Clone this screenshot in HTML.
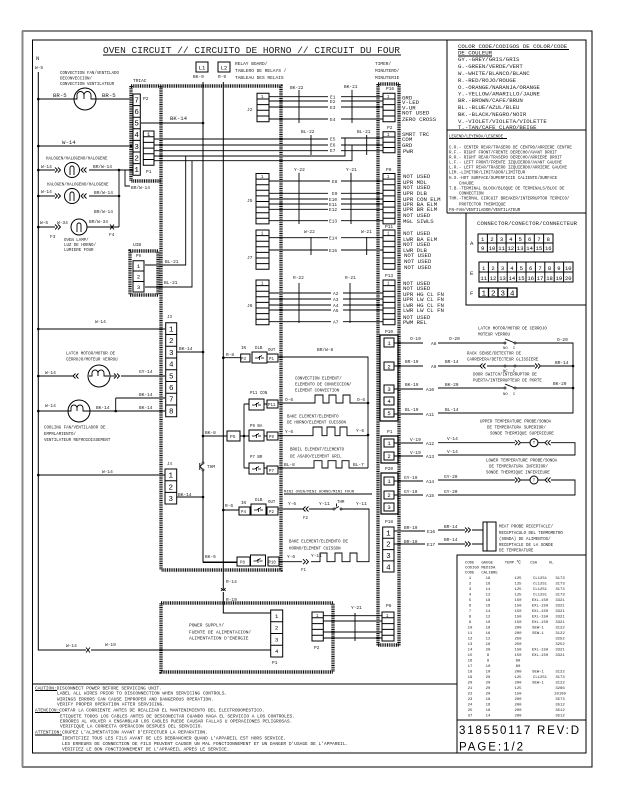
<!DOCTYPE html>
<html><head><meta charset="utf-8"><style>
html,body{margin:0;padding:0;background:#fff}
svg{display:block}
text{font-family:"Liberation Mono",monospace;fill:#222}
.x{font-size:4.1px}.s{font-size:4.5px}.m{font-size:5.7px}.n{font-size:7.5px;text-anchor:middle;fill:#000}.k{font-size:5.5px;text-anchor:middle;fill:#000}
.t{font-size:3.9px}
.w{fill:none;stroke:#000;stroke-width:.9}
.b{fill:none;stroke:#000;stroke-width:1}
.d{fill:none;stroke:#111;stroke-width:3.4;stroke-dasharray:1 .8}
</style></head><body>
<svg width="619" height="800" viewBox="0 0 619 800" xmlns="http://www.w3.org/2000/svg">
<defs>
<circle id="o" r="1.3" fill="#000"/>
<circle id="c" r="1" fill="#fff" stroke="#000" stroke-width=".7"/>
<path id="gt" d="M0-2.5L2.5 0L0 2.5M3-2.5L5.5 0L3 2.5" fill="none" stroke="#000" stroke-width=".9"/>
<path id="lt" d="M2.5-2.5L0 0L2.5 2.5M5.5-2.5L3 0L5.5 2.5" fill="none" stroke="#000" stroke-width=".9"/>
<g id="rel"><path d="M0 0h15v11h-15z" fill="#fff" stroke="#000" stroke-width="1"/><path d="M3 6h3l4-2.5M9 6h3M7.5 4v4" fill="none" stroke="#000" stroke-width=".8"/></g>
</defs>
<rect width="619" height="800" fill="#fff"/>
<!-- frames -->
<path d="M592 31H22.5V767H592Z" fill="none" stroke="#000" stroke-width="1"/>
<path d="M23 31H590" stroke="#888" stroke-width="2" fill="none"/><path d="M22.5 31V767" stroke="#888" stroke-width="2" fill="none"/>
<rect x="32.5" y="40" width="553.5" height="713" fill="none" stroke="#000" stroke-width="1"/>
<path class="b" d="M32.5 684H457M447 40V213M447 130H586M447 213H586M466 213V305H586M457 753V555H586M457 720H586"/>
<!-- title -->
<text x="103" y="53" font-size="9.5" textLength="297" fill="#000">OVEN CIRCUIT // CIRCUITO DE HORNO // CIRCUIT DU FOUR</text>
<path class="b" d="M103 55H401"/>
<!-- dotted boxes -->
<path class="d" d="M131 86H281V570H161M161 86V570M131 86V181H161"/>
<path class="d" d="M130 251H158V295H130Z"/>
<path class="d" d="M378 84V646M399 84V646M378 84H399M378 645H399"/>
<path class="d" d="M161 603H333V672H161Z"/>
<!-- bus and main wires -->
<path class="b" d="M38.3 72V650H271M203 82V562H237M223.3 82V613H271"/>
<text class="m" x="36" y="60">N</text><text class="s" x="35" y="69">W-5</text>
<rect x="196" y="62" width="12" height="10" class="b"/><rect x="218" y="62" width="12" height="10" class="b"/>
<text class="k" x="202" y="69.5">L1</text><text class="k" x="224" y="69.5">L2</text>
<text class="s" x="193" y="78">BK-9</text><text class="s" x="218" y="78">R-9</text>
<!-- convection fan -->
<path class="w" d="M38 99H74M96 99H133M38 146H133M141 123H203M38 329H165M177 352H203M38 376H73M121 376H165M115.7 398H165M115.7 398V411M38 411H165M38 475H165M177 497H203"/>
<circle cx="85" cy="99" r="11" class="b"/><path class="w" d="M74 99h3v-4a3.5 3.5 0 0 1 7 0v4M84 99v-4a3.5 3.5 0 0 1 7 0v4h5"/>
<text class="x" x="60" y="74">CONVECTION FAN/VENTILADO</text><text class="x" x="60" y="79.5">DECONVECCION/</text><text class="x" x="60" y="85">CONVECTION VENTILATEUR</text>
<text class="m" x="53" y="97">BR-5</text><text class="m" x="102" y="97">BR-5</text>
<text class="s" x="133" y="82">TRIAC</text><text class="s" x="143" y="100">P2</text>
<!-- P2 -->
<path class="b" d="M133 94h7.3v81.2h-7.3zM133 105.6h7.3M133 117.2h7.3M133 128.8h7.3M133 140.4h7.3M133 152h7.3M133 163.6h7.3" fill="#fff"/>
<text class="n" x="136.6" y="102.5">7</text><text class="n" x="136.6" y="114">6</text><text class="n" x="136.6" y="125.5">5</text><text class="n" x="136.6" y="137">4</text><text class="n" x="136.6" y="149">3</text><text class="n" x="136.6" y="160.5">2</text><text class="n" x="136.6" y="172">1</text>
<text class="m" x="62" y="144">W-14</text><text class="m" x="170" y="120">BK-14</text>
<!-- P1 inner -->
<path class="b" d="M143.3 131H154V165.2H143.3ZM143.3 136.7H154M143.3 142.4H154M143.3 148.1H154M143.3 153.8H154M143.3 159.5H154"/>
<text class="k" x="148.6" y="135.8">1</text><text class="s" x="146" y="173">P1</text>
<path class="w" d="M154 139H328M154 145H328M154 150.7H328M154 156H345V138M154 160.7H352V145M185.7 156V265H145M192 160.7V287H145"/>
<!-- halogens -->
<text class="x" x="46" y="159.5">HALOGEN/HALOGENO/HALOGENE</text><text class="x" x="47" y="185.5">HALOGEN/HALOGENO/HALOGENE</text>
<path class="w" d="M38 170H55M85 170H133M38 196H55M85 196H119M38 227H55M87 227H119M119 170V227M125 170V186H130"/>
<circle cx="72" cy="170" r="7.5" class="b"/><circle cx="72" cy="196" r="7.5" class="b"/><circle cx="79" cy="227" r="8" class="b"/>
<path class="w" d="M70 175v-7a2 2 0 0 1 4 0v7M70 201v-7a2 2 0 0 1 4 0v7M77 232v-7a2 2 0 0 1 4 0v7"/>
<path fill="#fff" d="M55 167h9v6h-9zM80 167h9v6h-9zM55 193h9v6h-9zM80 193h9v6h-9zM55 224h9v6h-9z"/>
<path class="w" d="M38 170h17M38 196h17M38 227h17"/>
<use href="#gt" x="55" y="170"/><use href="#lt" x="81" y="170"/><use href="#gt" x="55" y="196"/><use href="#lt" x="81" y="196"/><use href="#gt" x="55" y="227"/>
<path class="w" d="M110 224.5l4 5M114 224.5l-4 5"/>
<text class="s" x="41" y="168">W-14</text><text class="s" x="93" y="168">BR/W-14</text><text class="s" x="41" y="193">W-14</text><text class="s" x="94" y="194">BR/W-14</text><text class="s" x="94" y="213">BR/W-14</text><text class="s" x="131" y="189">BR/W-14</text>
<text class="s" x="40" y="224">W-5</text><text class="s" x="57" y="224">W-34</text><text class="s" x="89" y="223">BR/W-34</text>
<text class="s" x="50" y="238">F3</text><text class="s" x="109" y="236">F4</text>
<text class="x" x="64" y="241">OVEN LAMP/</text><text class="x" x="64" y="246">LUZ DE HORNO/</text><text class="x" x="64" y="251">LUMIERE FOUR</text>
<!-- UIB -->
<text class="s" x="133" y="246">UIB</text><text class="x" x="136" y="257">P9</text>
<path class="b" d="M133 260.7H144V292H133ZM133 271H144M133 281.5H144"/>
<text class="k" x="138.5" y="268">1</text><text class="k" x="138.5" y="278.5">2</text><text class="k" x="138.5" y="289">3</text>
<text class="s" x="165" y="263">BL-21</text><text class="s" x="164" y="284">BL-21</text>
<!-- relay labels -->
<text class="s" x="235" y="65">RELAY BOARD/</text><text class="s" x="235" y="72">TABLERO DE RELAYS /</text><text class="s" x="235" y="79">TABLEAU  DES RELAIS</text>
<text class="s" x="375" y="65">TIMER/</text><text class="s" x="375" y="72">MINUTERO/</text><text class="s" x="375" y="79">MINUTERIE</text>
<!-- J connectors -->
<path class="b" d="M257 93.3h12v28.4h-12zM257 99h12M257 104.6h12M257 110.3h12M257 116h12M383 93.3h12v28.4h-12zM383 99h12M383 104.6h12M383 110.3h12M383 116h12"/>
<path class="b" d="M383 131.7h12v21h-12zM383 137h12M383 142.2h12M383 147.5h12"/>
<path class="b" d="M256 173.5h13v50.4h-13zM256 179.1h13M256 184.7h13M256 190.3h13M256 195.9h13M256 201.5h13M256 207.1h13M256 212.7h13M256 218.3h13M383 173.5h12v50.4h-12zM383 179.1h12M383 184.7h12M383 190.3h12M383 195.9h12M383 201.5h12M383 207.1h12M383 212.7h12M383 218.3h12"/>
<path class="b" d="M256 230h13v39.2h-13zM256 235.6h13M256 241.2h13M256 246.8h13M256 252.4h13M256 258h13M256 263.6h13M383 230h12v39.2h-12zM383 235.6h12M383 241.2h12M383 246.8h12M383 252.4h12M383 258h12M383 263.6h12"/>
<path class="b" d="M256 280h13v44.8h-13zM256 285.6h13M256 291.2h13M256 296.8h13M256 302.4h13M256 308h13M256 313.6h13M256 319.2h13M383 280h12v44.8h-12zM383 285.6h12M383 291.2h12M383 296.8h12M383 302.4h12M383 308h12M383 313.6h12M383 319.2h12"/>
<text class="x" x="261" y="98">1</text><text class="x" x="387" y="98">1</text><text class="x" x="387" y="136">1</text><text class="x" x="261" y="178">1</text><text class="x" x="387" y="178">1</text><text class="x" x="261" y="234.5">1</text><text class="x" x="387" y="234.5">1</text><text class="x" x="261" y="284.5">1</text><text class="x" x="387" y="284.5">1</text>
<text class="s" x="247" y="111">J2</text><text class="s" x="247" y="202">J5</text><text class="s" x="247" y="259">J7</text><text class="s" x="247" y="307">J6</text>
<text class="s" x="386" y="90">P16</text><text class="s" x="387" y="129">P2</text><text class="s" x="386" y="171">P9</text><text class="s" x="385" y="228">P11</text><text class="s" x="385" y="277">P13</text><text class="s" x="385" y="333">P10</text>
<path class="w" d="M269 96.7H328M341 96.7H383M269 101H328M341 101H383M269 107H328M341 107H383M269 119H328M341 119H383"/>
<path class="w" d="M341 138H383M341 145H383M341 150.7H383M269 181H330M341 181H383M269 193.3H328M341 193.3H383M269 199H328M341 199H383M269 204H328M341 204H383M269 209.3H328M341 209.3H383M269 220.7H328M341 220.7H383M269 237.7H328M341 237.7H383M269 250H328M341 250H383M269 293H331M343 293H383M269 299H331M343 299H383M269 305H331M343 305H383M269 310H331M343 310H383M269 321.7H331M343 321.7H383"/>
<path class="w" d="M299 90V123M352 90V123M311 135V155M366.7 135V155M299 172.7V224M351 172.7V224M311 237V255M366.7 237V255M299 283V323M350 283V323"/>
<g><text class="s" x="330" y="98.5">E1</text><text class="s" x="330" y="102.8">E2</text><text class="s" x="330" y="108.8">E3</text><text class="s" x="330" y="121">E4</text><text class="s" x="330" y="140.5">E5</text><text class="s" x="330" y="146.5">E6</text><text class="s" x="330" y="152">E7</text><text class="s" x="332" y="183">E8</text><text class="s" x="332" y="195">E9</text><text class="s" x="329" y="201">E10</text><text class="s" x="329" y="206">E11</text><text class="s" x="329" y="211">E12</text><text class="s" x="329" y="222.5">E13</text><text class="s" x="329" y="239.5">E14</text><text class="s" x="329" y="252">E15</text><text class="s" x="333" y="295">A2</text><text class="s" x="333" y="301">A3</text><text class="s" x="333" y="307">A4</text><text class="s" x="333" y="312">A5</text><text class="s" x="333" y="323.5">A7</text></g>
<text class="s" x="290" y="89">BK-22</text><text class="s" x="344" y="88">BK-21</text><text class="s" x="301" y="133">BL-22</text><text class="s" x="357" y="133">BL-21</text><text class="s" x="294" y="171">Y-22</text><text class="s" x="346" y="171">Y-21</text><text class="s" x="304" y="233">W-22</text><text class="s" x="361" y="233">W-21</text><text class="s" x="293" y="279">R-22</text><text class="s" x="345" y="279">R-21</text>
<!-- timer pin labels -->
<text class="m" x="402" y="99.5">GRD</text><text class="m" x="402" y="104">V-LED</text><text class="m" x="402" y="109.5">V-UR</text><text class="m" x="402" y="114.5">NOT USED</text><text class="m" x="402" y="121">ZERO CROSS</text>
<text class="m" x="402" y="136">SMRT TRC</text><text class="m" x="402" y="141">COM</text><text class="m" x="402" y="147">GRD</text><text class="m" x="403" y="153">PWR</text>
<text class="m" x="403" y="178">NOT USED</text><text class="m" x="403" y="184">UPR MDL</text><text class="m" x="403" y="189">NOT USED</text><text class="m" x="403" y="195">UPR DLB</text><text class="m" x="403" y="201">UPR CON ELM</text><text class="m" x="403" y="206">UPR BA ELM</text><text class="m" x="403" y="211">UPR BR ELM</text><text class="m" x="403" y="217">NOT USED</text><text class="m" x="403" y="223">MGL SIWLS</text>
<text class="m" x="403" y="235">NOT USED</text><text class="m" x="403" y="241">LWR BA ELM</text><text class="m" x="403" y="246">NOT USED</text><text class="m" x="403" y="252">LWR DLB</text><text class="m" x="404" y="257">NOT USED</text><text class="m" x="404" y="263">NOT USED</text><text class="m" x="404" y="269">NOT USED</text>
<text class="m" x="403" y="285">NOT USED</text><text class="m" x="403" y="290">NOT USED</text><text class="m" x="403" y="296">UPR HG CL FN</text><text class="m" x="403" y="301">UPR LW CL FN</text><text class="m" x="403" y="307">LWR HG CL FN</text><text class="m" x="403" y="312">LWR LW CL FN</text><text class="m" x="403" y="319">NOT USED</text><text class="m" x="403" y="324">PWM REL</text>
<!-- color code -->
<g>
<text class="m" x="458" y="48">COLOR CODE/CODIGOS DE COLOR/CODE</text><text class="m" x="458" y="54.5">DE COULEUR</text>
<text class="m" x="458" y="61">GY.-GREY/GRIS/GRIS</text><text class="m" x="458" y="68">G.-GREEN/VERDE/VERT</text><text class="m" x="458" y="75">W.-WHITE/BLANCO/BLANC</text><text class="m" x="458" y="82">R.-RED/ROJO/ROUGE</text><text class="m" x="458" y="89">O.-ORANGE/NARANJA/ORANGE</text><text class="m" x="458" y="95.5">Y.-YELLOW/AMARILLO/JAUNE</text><text class="m" x="458" y="102">BR.-BROWN/CAFE/BRUN</text><text class="m" x="458" y="109">BL.-BLUE/AZUL/BLEU</text><text class="m" x="458" y="116">BK.-BLACK/NEGRO/NOIR</text><text class="m" x="458" y="123">V.-VIOLET/VIOLETA/VIOLETTE</text><text class="m" x="458" y="129">T.-TAN/CAFE CLARO/BEIGE</text>
</g>
<path class="w" d="M458 49.5H569M458 56H492"/>
<text class="x" x="449" y="137.5">LEGEND/LEYENDA/LEGENDE</text><path class="w" d="M449 138.5H507"/>
<text class="x" x="449" y="148.5">C.R.- CENTER REAR/TRASERO DE CENTRO/ARRIERE CENTRE</text>
<text class="x" x="449" y="153.5">R.F.- RIGHT FRONT/FRENTE DERECHO/AVANT DROIT</text>
<text class="x" x="449" y="158.5">R.R.- RIGHT REAR/TRASERO DERECHO/ARRIERE DROIT</text>
<text class="x" x="449" y="163.5">L.F.- LEFT FRONT/FRENTE IZQUIERDO/AVANT GAUCHE</text>
<text class="x" x="449" y="168.5">L.R.- LEFT REAR/TRASERO IZQUIERDO/ARRIERE GAUCHE</text>
<text class="x" x="449" y="173.5">LIM.-LIMITOR/LIMITADOR/LIMITEUR</text>
<text class="x" x="449" y="179">H.S.-HOT SURFACE/SUPERFICIE CALIENTE/SURFACE</text>
<text class="x" x="459" y="184.5">CHAUDE</text>
<text class="x" x="449" y="189.5">T.B.-TERMINAL BLOCK/BLOQUE DE TERMINALS/BLOC DE</text>
<text class="x" x="459" y="194.5">CONNECTION</text>
<text class="x" x="449" y="199.5">THM.-THERMAL CIRCUIT BREAKER/INTERRUPTOR TERMICO/</text>
<text class="x" x="459" y="205.5">PROTECTOR THERMIQUE</text>
<text class="x" x="449" y="211">FN-FAN/VENTILADOR/VENTILATEUR</text>
<!-- connector legend -->
<text x="477" y="225" style="font-size:5.6px" textLength="100">CONNECTOR/CONECTOR/CONNECTEUR</text>
<text class="m" x="470" y="245">A</text><text class="m" x="470" y="275">E</text><text class="m" x="470" y="295">F</text>
<path class="b" d="M478 234H553V252H478ZM478 243H553M487.4 234V252M496.8 234V252M506.1 234V252M515.5 234V252M524.9 234V252M534.3 234V252M543.6 234V252"/>
<path class="b" d="M479 262H573V282H479ZM479 272H573M488.4 262V282M497.8 262V282M507.2 262V282M516.6 262V282M526 262V282M535.4 262V282M544.8 262V282M554.2 262V282M563.6 262V282"/>
<path fill="none" stroke="#000" stroke-width="1.3" d="M479 288H517V297H479ZM488.5 288V297M498 288V297M507.5 288V297"/>
<g><text class="k" x="482.7" y="241">1</text><text class="k" x="492" y="241">2</text><text class="k" x="501.5" y="241">3</text><text class="k" x="510.8" y="241">4</text><text class="k" x="520.2" y="241">5</text><text class="k" x="529.6" y="241">6</text><text class="k" x="539" y="241">7</text><text class="k" x="548.3" y="241">8</text>
<text class="k" x="482.7" y="250">9</text><text class="k" x="492" y="250">10</text><text class="k" x="501.5" y="250">11</text><text class="k" x="510.8" y="250">12</text><text class="k" x="520.2" y="250">13</text><text class="k" x="529.6" y="250">14</text><text class="k" x="539" y="250">15</text><text class="k" x="548.3" y="250">16</text>
<text class="k" x="483.7" y="270">1</text><text class="k" x="493" y="270">2</text><text class="k" x="502.5" y="270">3</text><text class="k" x="511.9" y="270">4</text><text class="k" x="521.3" y="270">5</text><text class="k" x="530.7" y="270">6</text><text class="k" x="540" y="270">7</text><text class="k" x="549.5" y="270">8</text><text class="k" x="558.9" y="270">9</text><text class="k" x="568.3" y="270">10</text>
<text class="k" x="483.7" y="280">11</text><text class="k" x="493" y="280">12</text><text class="k" x="502.5" y="280">13</text><text class="k" x="511.9" y="280">14</text><text class="k" x="521.3" y="280">15</text><text class="k" x="530.7" y="280">16</text><text class="k" x="540" y="280">17</text><text class="k" x="549.5" y="280">18</text><text class="k" x="558.9" y="280">19</text><text class="k" x="568.3" y="280">20</text></g>
<text class="n" x="483.7" y="295.5">1</text><text class="n" x="493.2" y="295.5">2</text><text class="n" x="502.7" y="295.5">3</text><text class="n" x="512.2" y="295.5">4</text>
<!-- J3 -->
<text class="x" x="167" y="318">J3</text>
<path class="b" d="M165.7 322.7H176.7V416.7H165.7ZM165.7 334.45H176.7M165.7 346.2H176.7M165.7 357.95H176.7M165.7 369.7H176.7M165.7 381.45H176.7M165.7 393.2H176.7M165.7 404.95H176.7"/>
<text class="n" x="171.2" y="331.5">1</text><text class="n" x="171.2" y="343">2</text><text class="n" x="171.2" y="355">3</text><text class="n" x="171.2" y="366.5">4</text><text class="n" x="171.2" y="378.5">5</text><text class="n" x="171.2" y="390">6</text><text class="n" x="171.2" y="401.5">7</text><text class="n" x="171.2" y="413.5">8</text>
<text class="s" x="95" y="323">W-14</text><text class="s" x="179" y="350">BK-14</text>
<text class="x" x="66" y="354.5">LATCH MOTOR/MOTOR DE</text><text class="x" x="66" y="360.5">CERROJO/MOTEUR VERROU</text>
<circle cx="99" cy="376" r="11" fill="#fff" stroke="#000"/><path class="w" d="M89 376h3v-3a3 3 0 0 1 6 0v3M98 376v-3a3 3 0 0 1 6 0v3h5"/>
<use href="#lt" x="73" y="376"/><use href="#gt" x="114" y="376"/><path class="w" d="M110 376h5"/>
<text class="s" x="45" y="374">W-14</text><text class="s" x="139" y="373">GY-14</text>
<circle cx="79" cy="411" r="11" fill="#fff" stroke="#000"/><path class="w" d="M68 411h3v-3a3 3 0 0 1 6 0v3M77 411v-3a3 3 0 0 1 6 0v3h7"/>
<text class="s" x="45" y="407">W-14</text><text class="s" x="96" y="409">BK-14</text><text class="s" x="139" y="396">BK-14</text><text class="s" x="139" y="409">BK-14</text>
<text class="x" x="44" y="428.5">COOLING FAN/VENTILADOR DE</text><text class="x" x="44" y="435">EMPRLAMIENTO/</text><text class="x" x="44" y="441">VENTILATEUR REFROIDISSEMENT</text>
<!-- J4 -->
<text class="x" x="167" y="465">J4</text>
<path class="b" d="M165 469H176.7V504H165ZM165 480.7H176.7M165 492.4H176.7"/>
<text class="n" x="170.8" y="477.5">1</text><text class="n" x="170.8" y="489.5">2</text><text class="n" x="170.8" y="501">3</text>
<text class="s" x="102" y="473">W-14</text><text class="s" x="178" y="496">BK-14</text>
<!-- THM switch on BK line -->
<rect x="201.5" y="463" width="3" height="7" fill="#fff"/>
<path class="w" d="M203 463.500L199.800 466.500L203 469.500M199.800 463V470"/>
<use href="#c" x="203" y="463"/><use href="#c" x="203" y="470"/>
<text class="s" x="207" y="468">THM</text>
<text class="s" x="205" y="434">BK-8</text><text class="s" x="205" y="558">BK-6</text>
<text class="s" x="226" y="356">R-8</text><text class="s" x="225" y="507">R-6</text>
<path class="w" d="M223 357.7H241M223 510H239M203 436H227M203 562.5H237"/>
<!-- relays -->
<path class="b" d="M240.7 354H250V362H240.7ZM227 431H240V441H227ZM239 507H250V515H239ZM237 557H250V566H237Z"/>
<text class="x" x="241" y="360">P3</text><text class="s" x="230" y="438">P5</text><text class="x" x="241" y="513">P4</text><text class="x" x="240" y="563.5">P8</text>
<text class="x" x="241" y="349">IN</text><text class="x" x="241" y="504">IN</text>
<text class="x" x="255" y="349">DLB</text><text class="x" x="255" y="501">DLB</text><text class="x" x="268" y="351">OUT</text><text class="x" x="268" y="503">OUT</text>
<use href="#rel" x="252" y="352"/><use href="#rel" x="249" y="399"/><use href="#rel" x="249" y="430"/><use href="#rel" x="249" y="463"/><use href="#rel" x="251" y="504"/><use href="#rel" x="250.5" y="555"/>
<path class="b" d="M267 354H278V362H267ZM267 400H278V408H267ZM267 432H278V440H267ZM267 466H278V474H267ZM267 507H278V515H267ZM268 557H279V566H268Z"/>
<text class="x" x="269" y="360">P1</text><text class="x" x="268" y="406">P11</text><text class="x" x="269" y="438">P9</text><text class="x" x="269" y="472">P7</text><text class="x" x="269" y="513">P2</text><text class="x" x="268.5" y="563.5">P10</text>
<text class="x" x="250" y="394">P11 CON</text><text class="x" x="250" y="427">P9 BA</text><text class="x" x="250" y="458">P7 BR</text>
<path class="w" d="M240 436H249M244 404V468M244 404H249M244 468H249M264 404H267M264 436H267M264 468H267"/>
<use href="#o" x="244" y="436"/>
<!-- element wires -->
<path class="w" d="M278 357H368V468M278 403H315V395H323V403H329V395H336V403H343V395H350V403H368"/>
<path class="w" d="M278 435.7H313V427H322V435.7H327V427H335V435.7H340V427H347V435.7H368"/>
<path class="w" d="M278 468H314V460.7H322V468H328V460.7H336V468H342V460.7H349V468H368"/>
<text class="s" x="317" y="351">BR/W-8</text>
<text class="x" x="295" y="379.5">CONVECTION ELEMENT/</text><text class="x" x="295" y="385.5">ELEMENTO DE CONVECCION/</text><text class="x" x="295" y="391.5">ELEMENT CONVECTION</text>
<text class="x" x="287" y="417.5">BAKE ELEMENT/ELEMENTO</text><text class="x" x="287" y="423.5">DE HORNO/ELEMENT CUISSON</text>
<text class="x" x="290" y="450.5">BROIL ELEMENT/ELEMENTO</text><text class="x" x="290" y="457.5">DE ASADO/ELEMENT GRIL</text>
<text class="s" x="285" y="401">O-6</text><text class="s" x="357" y="401">O-6</text><text class="s" x="285" y="433">Y-6</text><text class="s" x="356" y="432">Y-6</text><text class="s" x="284" y="466">BL-8</text><text class="s" x="353" y="466">BL-7</text>
<use href="#o" x="368" y="403"/><use href="#o" x="368" y="435"/>
<text class="t" x="284" y="492.5">MINI OVEN/MINI HORNO/MINI FOUR</text><path class="w" d="M284 494H372"/>
<path class="w" d="M278 509H303M309 509H334M340 509H369V561.7H357V553H350V561.7H342V553H335V561.7H327V553H320V561.7H279"/>
<use href="#lt" x="303" y="509"/><path class="w" d="M334 509l5-2.5M336.5 503.5v3"/><use href="#c" x="334" y="509"/><use href="#c" x="341" y="509"/>
<text class="s" x="288" y="505">Y-6</text><text class="s" x="319" y="505">Y-11</text><text class="s" x="356" y="505">Y-11</text><text class="x" x="337" y="503">THM</text><text class="x" x="303" y="519">F2</text>
<path fill="#fff" d="M302 558H311V565H302Z"/><use href="#gt" x="303" y="561.7"/>
<text class="s" x="287" y="558">Y-6</text><text class="s" x="311" y="557">Y-11</text><text class="x" x="301" y="571">F1</text>
<text class="x" x="289" y="542.5">BAKE ELEMENT/ELEMENTO DE</text><text class="x" x="289" y="549.5">HORNO/ELEMENT CUISSON</text>
<!-- P10 P1 P20 P18 -->
<path fill="none" stroke="#000" stroke-width="1.2" d="M380 335H398V421H380ZM381 436H398V463H381ZM381 473H398V514H381Z"/>
<path class="b" fill="#fff" d="M384 338H394V347H384ZM384 362H394V370H384ZM384 385H394V393H384ZM384 397H394V405H384ZM384 409H394V417H384ZM384 439H394V447H384ZM384 452H394V460H384ZM384 477H394V485H384ZM384 491H394V499H384ZM384 503H394V511H384Z"/>
<text class="k" x="389" y="345">1</text><text class="k" x="389" y="368.5">2</text><text class="k" x="389" y="391">3</text><text class="k" x="389" y="403">4</text><text class="k" x="389" y="415">5</text><text class="k" x="389" y="445">1</text><text class="k" x="389" y="458">2</text><text class="k" x="389" y="483">1</text><text class="k" x="389" y="497">2</text><text class="k" x="389" y="509">3</text>
<text class="s" x="387" y="433">P1</text><text class="s" x="385" y="470">P20</text><text class="s" x="385" y="523">P18</text>
<path class="b" d="M382.7 527H394V572H382.7ZM382.7 538.3H394M382.7 549.6H394M382.7 560.9H394"/>
<text class="n" x="388.4" y="535.5">1</text><text class="n" x="388.4" y="546.5">2</text><text class="n" x="388.4" y="558">3</text><text class="n" x="388.4" y="569.5">4</text>
<path class="w" d="M394 343H423M394 366H423M394 389H423M394 414H423M394 443H423M394 456H423M394 481H423M394 495H423M394 531H425M394 544H425"/>
<text class="s" x="410" y="340">O-19</text><text class="s" x="405" y="363">BR-19</text><text class="s" x="405" y="386">BK-19</text><text class="s" x="405" y="411">BL-19</text><text class="s" x="410" y="441">V-19</text><text class="s" x="410" y="454">V-19</text><text class="s" x="404" y="479">GY-19</text><text class="s" x="404" y="493">GY-19</text><text class="s" x="404" y="529">BR-19</text><text class="s" x="404" y="543">BR-19</text>
<text class="s" x="431" y="345">A8</text><text class="s" x="431" y="368">A9</text><text class="s" x="426" y="391">A10</text><text class="s" x="426" y="416">A11</text><text class="s" x="426" y="445">A12</text><text class="s" x="426" y="458">A13</text><text class="s" x="426" y="483">A14</text><text class="s" x="426" y="497">A15</text><text class="s" x="427" y="533">E16</text><text class="s" x="427" y="546">E17</text>
<!-- right side -->
<path class="w" d="M438 343H505M516 343H573V413H438M438 366H480M487 366H535M541 366H573M438 388H505M516 388H573"/>
<path class="w" d="M505 339L515 343M505 384L515 388"/>
<use href="#c" x="505" y="343"/><use href="#c" x="515" y="343"/><use href="#c" x="505" y="366"/><use href="#c" x="515" y="366"/><use href="#c" x="505" y="388"/><use href="#c" x="515" y="388"/>
<use href="#lt" x="480" y="366"/><use href="#gt" x="535" y="366"/><use href="#o" x="573" y="366"/><use href="#o" x="573" y="388"/>
<text class="x" x="478" y="329.5">LATCH MOTOR/MOTOR DE CERROJO</text><text class="x" x="478" y="335.5">MOTEUR VERROU</text>
<text class="x" x="467" y="354.5">RACK SENSE/DETECTOR DE</text><text class="x" x="467" y="360.5">CARRERERA/DETECTEUR GLISSIERE</text>
<text class="x" x="473" y="375.5">DOOR SWITCH/INTERRUPTOR DE</text><text class="x" x="473" y="381.5">PUERTA/INTERRUPTEUR DE PORTE</text>
<text class="t" x="503" y="349">NO</text><text class="t" x="513" y="349">C</text><text class="t" x="503" y="372">NC</text><text class="t" x="513" y="372">C</text><text class="t" x="503" y="395">NO</text><text class="t" x="513" y="395">C</text>
<text class="s" x="557" y="341">O-20</text><text class="s" x="449" y="340">O-20</text><text class="s" x="445" y="363">BR-14</text><text class="s" x="555" y="364">BR-14</text><text class="s" x="445" y="386">BK-20</text><text class="s" x="553" y="385">BK-20</text><text class="s" x="445" y="411">BL-14</text>
<text class="x" x="480" y="422.5">UPPER TEMPERATURE PROBE/SONDA</text><text class="x" x="487" y="428.5">DE TEMPERATURA SUPERIOR/</text><text class="x" x="490" y="434.5">SONDE THERMIQUE SUPERIEURE</text>
<path class="w" d="M438 442.7H515M521 442.7H530M538 442.7H545M551 442.7H575V455H438"/>
<use href="#gt" x="515" y="442.7"/><circle cx="534" cy="442.7" r="4" class="b"/><use href="#lt" x="545" y="442.7"/>
<text class="x" x="532.8" y="444.2">T</text>
<text class="s" x="447" y="440">V-14</text><text class="s" x="447" y="453">V-14</text>
<text class="x" x="486" y="461.5">LOWER TEMPERATURE PROBE/SONDA</text><text class="x" x="489" y="467.5">DE TEMPERATURA INFERIOR/</text><text class="x" x="486" y="473.5">SONDE THERMIQUE INFERIEURE</text>
<path class="w" d="M438 480H515M521 480H530M538 480H545M551 480H575V495H438"/>
<use href="#gt" x="515" y="480"/><circle cx="534" cy="480" r="4" class="b"/><use href="#lt" x="545" y="480"/>
<text class="x" x="532.8" y="481.5">T</text>
<text class="s" x="444" y="478">GY-20</text><text class="s" x="444" y="493">GY-20</text>
<path class="w" d="M438 530H465M438 544H465M472 530H483M472 544H483"/>
<use href="#gt" x="465" y="530"/><use href="#gt" x="465" y="544"/>
<text class="s" x="444" y="528">BR-14</text><text class="s" x="444" y="541">BR-14</text>
<path class="b" d="M483 522H496V551H483ZM487 522V551"/>
<text class="x" x="499" y="527.5">MEAT PROBE RECEPTACLE/</text><text class="x" x="499" y="534">RECEPTACULO DEL TERMOMETRO</text><text class="x" x="499" y="540">(SONDA) DE ALIMENTOS/</text><text class="x" x="499" y="546">RECEPTACLE DE LA SONDE</text><text class="x" x="499" y="551.5">DE TEMPERATURE</text>
<!-- dots -->
<use href="#o" x="38.3" y="99"/><use href="#o" x="38.3" y="146"/><use href="#o" x="131" y="146"/><use href="#o" x="38.3" y="170"/><use href="#o" x="119" y="170"/><use href="#o" x="38.3" y="196"/><use href="#o" x="119" y="196"/><use href="#o" x="38.3" y="227"/><use href="#o" x="203" y="123"/><use href="#o" x="38.3" y="329"/><use href="#o" x="38.3" y="376"/><use href="#o" x="38.3" y="411"/><use href="#o" x="115.7" y="411"/><use href="#o" x="38.3" y="475"/><use href="#o" x="203" y="352"/><use href="#o" x="203" y="497"/><use href="#o" x="203" y="436"/><use href="#o" x="223.3" y="357.7"/><use href="#o" x="223.3" y="510"/>
<!-- power supply -->
<path fill="#fff" d="M221 588H226V592H221ZM86 647H91V653H86Z"/>
<path class="w" d="M221 591l2.3-2.5l2.3 2.5M221 588l2.3 2.5l2.3-2.5M86 647.5l2 2.5l-2 2.5M90 647.5l-2 2.5l2 2.5"/>
<text class="s" x="226" y="583">R-14</text><text class="s" x="226" y="601">R-19</text>
<path class="b" fill="#fff" d="M270.7 610H282.7V657H270.7ZM270.7 621.75H282.7M270.7 633.5H282.7M270.7 645.25H282.7"/>
<text class="k" x="276.7" y="617.8">1</text><text class="k" x="276.7" y="629.6">2</text><text class="k" x="276.7" y="641.5">3</text><text class="k" x="276.7" y="653">4</text>
<text class="s" x="272" y="664">P1</text><text class="s" x="314" y="649">P2</text><text class="s" x="386" y="607">P8</text>
<text class="s" x="189" y="626.5">POWER SUPPLY/</text><text class="s" x="189" y="633.5">FUENTE DE ALIMENTACION/</text><text class="s" x="189" y="639.5">ALIMENTATION D'ENERGIE</text>
<text class="s" x="66" y="647">W-14</text><text class="s" x="105" y="646">W-19</text>
<path class="b" d="M312 612H323.3V641H312ZM312 617.8H323.3M312 623.6H323.3M312 629.4H323.3M312 635.2H323.3M382 612H394V641H382ZM382 617.8H394M382 623.6H394M382 629.4H394M382 635.2H394"/>
<text class="x" x="316" y="617">1</text><text class="x" x="386" y="617">1</text>
<path class="w" d="M323 615.7H382M323 621H382M323 632H382M323 638H382M355 613V641"/>
<text class="s" x="351" y="609">Y-21</text>
<!-- caution -->
<g>
<text class="s" x="35" y="689.5">CAUTION:DISCONNECT POWER BEFORE SERVICING UNIT.</text>
<text class="s" x="57" y="694.5">LABEL ALL WIRES PRIOR TO DISCONNECTION WHEN SERVICING CONTROLS.</text>
<text class="s" x="57" y="700.5">WIRINGS ERRORS CAN CAUSE IMPROPER AND DANGEROUS OPERATION.</text>
<text class="s" x="57" y="705.5">VERIFY PROPER OPERATION AFTER SERVICING.</text>
<text class="s" x="35" y="711.5">ATENCION:CORTAR LA CORRIENTE ANTES DE REALIZAR EL MANTENIMIENTO DEL ELECTRODOMESTICO.</text>
<text class="s" x="60" y="717.5">ETIQUETE TODOS LOS CABLES ANTES DE DESCONECTAR CUANDO HAGA EL SERVICIO A LOS CONTROLES.</text>
<text class="s" x="60" y="722.5">ERRORES AL VOLVER A ENSAMBLAR LOS CABLES PUEDE CAUSAR FALLAS U OPERACIONES PELIGROSAS.</text>
<text class="s" x="60" y="727.5">VERIFIQUE LA CORRECTA OPERACION DESPUES DEL SERVICIO.</text>
<text class="s" x="35" y="733.5">ATTENTION:COUPEZ L'ALIMENTATION AVANT D'EFFECTUER LA REPARATION.</text>
<text class="s" x="62" y="739.5">IDENTIFIEZ TOUS LES FILS AVANT DE LES DEBRANCHER QUAND L'APPAREIL EST HORS SERVICE.</text>
<text class="s" x="62" y="745">LES ERREURS DE CONNECTION DE FILS PEUVENT CAUSER UN MAL FONCTIONNEMENT ET UN DANGER D'USAGE DE L'APPAREIL.</text>
<text class="s" x="62" y="750.5">VERIFIEZ LE BON FONCTIONNEMENT DE L'APPAREIL APRES LE SERVICE.</text>
</g>
<path class="w" d="M35 690.5H57M35 712.5H60"/><path fill="none" stroke="#000" stroke-width="1" d="M35 735H62"/>
<!-- table -->
<text class="t" x="465" y="563.5" xml:space="preserve">CODE   GAUGE     TEMP.&#8451;    CSA     UL</text>
<text class="t" x="465" y="568.5" xml:space="preserve">CODIGO MEDIDA</text>
<text class="t" x="465" y="573.5" xml:space="preserve">CODE   CALIBRE</text>
<g text-anchor="middle">
<text class="t" x="470" y="579">1</text><text class="t" x="488" y="579">18</text><text class="t" x="518" y="579">125</text><text class="t" x="540" y="579">CL1251</text><text class="t" x="560" y="579">3173</text>
<text class="t" x="470" y="584.5">2</text><text class="t" x="488" y="584.5">16</text><text class="t" x="518" y="584.5">125</text><text class="t" x="540" y="584.5">CL1251</text><text class="t" x="560" y="584.5">3173</text>
<text class="t" x="470" y="590">3</text><text class="t" x="488" y="590">14</text><text class="t" x="518" y="590">125</text><text class="t" x="540" y="590">CL1251</text><text class="t" x="560" y="590">3173</text>
<text class="t" x="470" y="595.5">4</text><text class="t" x="488" y="595.5">12</text><text class="t" x="518" y="595.5">125</text><text class="t" x="540" y="595.5">CL1251</text><text class="t" x="560" y="595.5">3173</text>
<text class="t" x="470" y="601">5</text><text class="t" x="488" y="601">18</text><text class="t" x="518" y="601">150</text><text class="t" x="540" y="601">EXL-150</text><text class="t" x="560" y="601">3321</text>
<text class="t" x="470" y="606.5">6</text><text class="t" x="488" y="606.5">16</text><text class="t" x="518" y="606.5">150</text><text class="t" x="540" y="606.5">EXL-150</text><text class="t" x="560" y="606.5">3321</text>
<text class="t" x="470" y="612">7</text><text class="t" x="488" y="612">14</text><text class="t" x="518" y="612">150</text><text class="t" x="540" y="612">EXL-150</text><text class="t" x="560" y="612">3321</text>
<text class="t" x="470" y="617.5">8</text><text class="t" x="488" y="617.5">12</text><text class="t" x="518" y="617.5">150</text><text class="t" x="540" y="617.5">EXL-150</text><text class="t" x="560" y="617.5">3321</text>
<text class="t" x="470" y="623">9</text><text class="t" x="488" y="623">10</text><text class="t" x="518" y="623">150</text><text class="t" x="540" y="623">EXL-150</text><text class="t" x="560" y="623">3321</text>
<text class="t" x="470" y="628.5">10</text><text class="t" x="488" y="628.5">18</text><text class="t" x="518" y="628.5">200</text><text class="t" x="538" y="628.5">SEW-1</text><text class="t" x="560" y="628.5">3122</text>
<text class="t" x="470" y="634">11</text><text class="t" x="488" y="634">16</text><text class="t" x="518" y="634">200</text><text class="t" x="538" y="634">SEW-1</text><text class="t" x="560" y="634">3122</text>
<text class="t" x="470" y="639.5">12</text><text class="t" x="488" y="639.5">12</text><text class="t" x="518" y="639.5">250</text><text class="t" x="560" y="639.5">3252</text>
<text class="t" x="470" y="645">13</text><text class="t" x="488" y="645">16</text><text class="t" x="518" y="645">250</text><text class="t" x="560" y="645">3252</text>
<text class="t" x="470" y="650.5">14</text><text class="t" x="488" y="650.5">20</text><text class="t" x="518" y="650.5">150</text><text class="t" x="540" y="650.5">EXL-150</text><text class="t" x="560" y="650.5">3321</text>
<text class="t" x="470" y="656">15</text><text class="t" x="488" y="656">8</text><text class="t" x="518" y="656">150</text><text class="t" x="540" y="656">EXL-150</text><text class="t" x="560" y="656">3321</text>
<text class="t" x="470" y="661.5">16</text><text class="t" x="488" y="661.5">8</text><text class="t" x="518" y="661.5">80</text>
<text class="t" x="470" y="667">17</text><text class="t" x="488" y="667">10</text><text class="t" x="518" y="667">80</text>
<text class="t" x="470" y="672.5">18</text><text class="t" x="488" y="672.5">10</text><text class="t" x="518" y="672.5">200</text><text class="t" x="538" y="672.5">SEW-1</text><text class="t" x="560" y="672.5">3122</text>
<text class="t" x="470" y="678">19</text><text class="t" x="488" y="678">20</text><text class="t" x="518" y="678">125</text><text class="t" x="540" y="678">CL1251</text><text class="t" x="560" y="678">3173</text>
<text class="t" x="470" y="683.5">20</text><text class="t" x="488" y="683.5">20</text><text class="t" x="518" y="683.5">200</text><text class="t" x="538" y="683.5">SEW-1</text><text class="t" x="560" y="683.5">3122</text>
<text class="t" x="470" y="689">21</text><text class="t" x="488" y="689">20</text><text class="t" x="518" y="689">125</text><text class="t" x="560" y="689">3266</text>
<text class="t" x="470" y="694.5">22</text><text class="t" x="488" y="694.5">20</text><text class="t" x="518" y="694.5">150</text><text class="t" x="560" y="694.5">10109</text>
<text class="t" x="470" y="700">23</text><text class="t" x="488" y="700">18</text><text class="t" x="518" y="700">200</text><text class="t" x="560" y="700">3573</text>
<text class="t" x="470" y="705.5">24</text><text class="t" x="488" y="705.5">16</text><text class="t" x="518" y="705.5">200</text><text class="t" x="560" y="705.5">3512</text>
<text class="t" x="470" y="711">25</text><text class="t" x="488" y="711">18</text><text class="t" x="518" y="711">200</text><text class="t" x="560" y="711">3512</text>
<text class="t" x="470" y="716.5">37</text><text class="t" x="488" y="716.5">14</text><text class="t" x="518" y="716.5">200</text><text class="t" x="560" y="716.5">3512</text>
</g>
<text x="459" y="734" font-size="11.5" textLength="120" style="font-family:'Liberation Sans',sans-serif;fill:#000">318550117 REV:D</text>
<text x="459" y="750.5" font-size="11.5" textLength="64" style="font-family:'Liberation Sans',sans-serif;fill:#000">PAGE:1/2</text>
</svg>
</body></html>
